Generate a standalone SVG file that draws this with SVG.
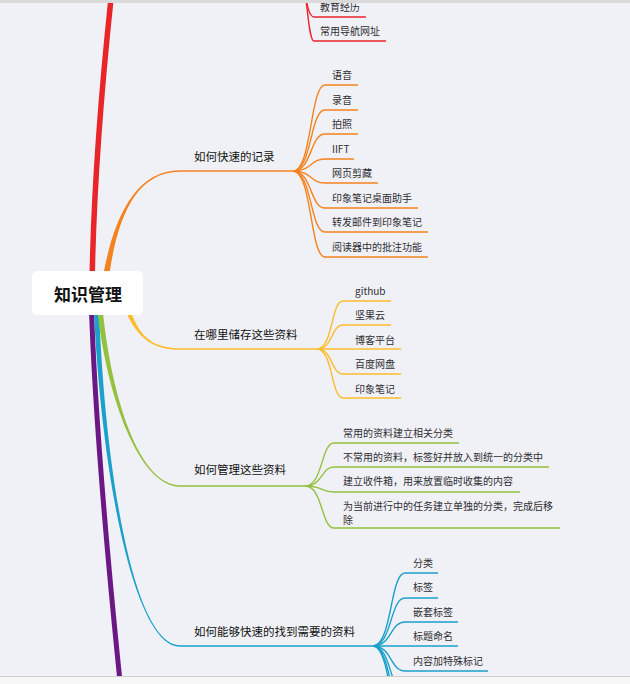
<svg xmlns="http://www.w3.org/2000/svg" width="630" height="684" viewBox="0 0 630 684">
<style>
.t{font-family:"Noto Sans CJK SC","Noto Sans",sans-serif;font-size:10px;fill:#2e2e33;dominant-baseline:central}
.h{font-family:"Noto Sans CJK SC","Noto Sans",sans-serif;font-size:11.5px;fill:#111111;font-weight:normal;dominant-baseline:central}
.c{fill:none;stroke-width:1.4}
.red{stroke:#e8262a}.org{stroke:#f5821f}.yel{stroke:#fcbc2c}.grn{stroke:#93c03d}.blu{stroke:#1aa0cb}.pur{stroke:#6c1884}
</style>
<rect width="630" height="684" fill="#f0f1f6"/>
<g id="connectors">
  <path d="M92,290 C93,200 101,90 113,-20" fill="none" class="red" stroke-width="5.5"/>
  <path d="M91,295 C94,400 104,530 124,720" fill="none" class="pur" stroke-width="5"/>
  <path d="M100.8,290 C109.6,230 130,170.2 180,170.2 L180,171.8 C130,171.8 114.4,230 107.2,290 Z" fill="#f5821f"/>
  <path d="M180,171 L293,171" class="c org"/>
  <path d="M119,295 C131.8,330 145,349.8 180,349.8 L180,348.2 C145,348.2 136.2,330 125,295 Z" fill="#fcbc2c"/>
  <path d="M180,349 L317,349" class="c yel"/>
  <path d="M93.4,300 C101,480 135,646.75 180,646.75 L180,645.25 C135,645.25 105,480 98.6,300 Z" fill="#1aa0cb"/>
  <path d="M180,646 L373,646" class="c blu"/>
  <path d="M96.2,300 C105.8,399 140,486.75 180,486.75 L180,485.25 C140,485.25 110.2,399 101.8,300 Z" fill="#93c03d"/>
  <path d="M180,486 L305,486" class="c grn"/>
  <path d="M290,-45 C306,-45 303,17 314,17 L366,17" class="c red"/>
  <path d="M290,-45 C308,-45 306,41 314,41 L386,41" class="c red"/>
  <path d="M293,171 C312,171 310,85 325,85 L358,85" class="c org"/>
  <path d="M293,171 C312,171 310,110 325,110 L358,110" class="c org"/>
  <path d="M293,171 C312,171 310,134 325,134 L358,134" class="c org"/>
  <path d="M293,171 C312,171 310,159 325,159 L354,159" class="c org"/>
  <path d="M293,171 C312,171 310,183 325,183 L378,183" class="c org"/>
  <path d="M293,171 C312,171 310,208 325,208 L418,208" class="c org"/>
  <path d="M293,171 C312,171 310,232 325,232 L428,232" class="c org"/>
  <path d="M293,171 C312,171 310,257 325,257 L428,257" class="c org"/>
  <path d="M317,349 C333,349 331,301 343,301 L391,301" class="c yel"/>
  <path d="M317,349 C333,349 331,325 343,325 L391,325" class="c yel"/>
  <path d="M317,349 L401,349" class="c yel"/>
  <path d="M317,349 C333,349 331,374 343,374 L401,374" class="c yel"/>
  <path d="M317,349 C333,349 331,398 343,398 L401,398" class="c yel"/>
  <path d="M305,486 C323,486 321,443 334,443 L459,443" class="c grn"/>
  <path d="M305,486 C323,486 321,467 334,467 L549,467" class="c grn"/>
  <path d="M305,486 C323,486 321,492 334,492 L520,492" class="c grn"/>
  <path d="M305,486 C323,486 321,528 334,528 L560,528" class="c grn"/>
  <path d="M373,646 C392,646 390,573 405,573 L438,573" class="c blu"/>
  <path d="M373,646 C392,646 390,598 405,598 L438,598" class="c blu"/>
  <path d="M373,646 C392,646 390,622 405,622 L458,622" class="c blu"/>
  <path d="M373,646 L458,646" class="c blu"/>
  <path d="M373,646 C392,646 390,671 405,671 L488,671" class="c blu"/>
  <path d="M373,646 C392,646 390,695 405,695 L480,695" class="c blu"/>
  <path d="M373,646 C392,646 391,720 405,720 L480,720" class="c blu"/>
  <path d="M373,646 C392,646 392,745 405,745 L480,745" class="c blu"/>
</g>
<g id="root">
  <rect x="32" y="271" width="111" height="44" rx="5" fill="#ffffff"/>
  <text x="88" y="293" text-anchor="middle" style="font-family:'Noto Sans CJK SC','Noto Sans',sans-serif;font-size:17px;font-weight:bold;fill:#111;dominant-baseline:central">知识管理</text>
</g>
<g id="red-children">
  <text class="t" x="320" y="6">教育经历</text>
  <text class="t" x="320" y="30">常用导航网址</text>
</g>
<g id="topic-record">
  <text class="h" x="194" y="155.5">如何快速的记录</text>
  <text class="t" x="332" y="74">语音</text>
  <text class="t" x="332" y="99">录音</text>
  <text class="t" x="332" y="123">拍照</text>
  <text class="t" x="332" y="148">IIFT</text>
  <text class="t" x="332" y="172">网页剪藏</text>
  <text class="t" x="332" y="197">印象笔记桌面助手</text>
  <text class="t" x="332" y="221">转发邮件到印象笔记</text>
  <text class="t" x="332" y="246">阅读器中的批注功能</text>
</g>
<g id="topic-store">
  <text class="h" x="194" y="333.5">在哪里储存这些资料</text>
  <text class="t" x="355" y="290">github</text>
  <text class="t" x="355" y="314">坚果云</text>
  <text class="t" x="355" y="339">博客平台</text>
  <text class="t" x="355" y="363">百度网盘</text>
  <text class="t" x="355" y="388">印象笔记</text>
</g>
<g id="topic-manage">
  <text class="h" x="194" y="468.5">如何管理这些资料</text>
  <text class="t" x="343" y="432">常用的资料建立相关分类</text>
  <text class="t" x="343" y="456">不常用的资料，标签好并放入到统一的分类中</text>
  <text class="t" x="343" y="480">建立收件箱，用来放置临时收集的内容</text>
  <text class="t" x="343" y="505">为当前进行中的任务建立单独的分类，完成后移</text>
  <text class="t" x="343" y="519">除</text>
</g>
<g id="topic-find">
  <text class="h" x="194" y="630.5">如何能够快速的找到需要的资料</text>
  <text class="t" x="413" y="562">分类</text>
  <text class="t" x="413" y="586">标签</text>
  <text class="t" x="413" y="611">嵌套标签</text>
  <text class="t" x="413" y="635">标题命名</text>
  <text class="t" x="413" y="660">内容加特殊标记</text>
</g>
<rect x="0" y="0" width="630" height="3" fill="#dadada"/>
<rect x="0" y="676" width="630" height="8" fill="#f6f6f6"/>
<line x1="0" y1="676.5" x2="630" y2="676.5" stroke="#cfcfcf" stroke-width="1"/>
</svg>
